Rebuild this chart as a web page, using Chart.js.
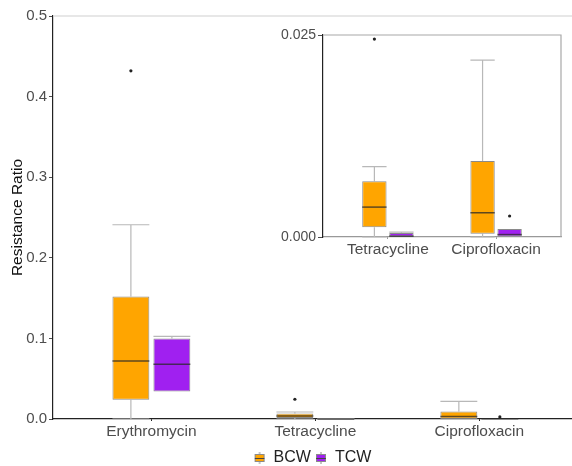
<!DOCTYPE html>
<html>
<head>
<meta charset="utf-8">
<script src="https://cdn.jsdelivr.net/npm/chart.js@4/dist/chart.umd.min.js"></script>
<style>
body { margin: 0; background: #fff; }
.wrap { position: relative; width: 572px; height: 466px; overflow: hidden; }
.main-canvas { position: absolute; left: 0; top: 0; }
.inset-canvas { position: absolute; left: 270px; top: 20px; background: #fff; }
</style>
</head>
<body>
<div class="wrap">
  <canvas class="main-canvas" width="572" height="466"></canvas>
  <canvas class="inset-canvas" width="300" height="245"></canvas>
</div>
<script>
const categories = ["Erythromycin", "Tetracycline", "Ciprofloxacin"];
const insetCategories = ["Tetracycline", "Ciprofloxacin"];
const seriesNames = ["BCW", "TCW"];

// box stats: lower whisker, Q1, median, Q3, upper whisker, outliers
const bcwMin = [0.0, 0.0, 0.0];
const bcwQ1 = [0.024, 0.0012, 0.0004];
const bcwMedian = [0.072, 0.0037, 0.0030];
const bcwQ3 = [0.152, 0.0069, 0.0094];
const bcwMax = [0.241, 0.0087, 0.0219];
const bcwOutliers = [[0.432], [0.0245], []];

const tcwMin = [0.034, 0.0, 0.0];
const tcwQ1 = [0.034, 0.0, 0.0];
const tcwMedian = [0.068, 0.0001, 0.0003];
const tcwQ3 = [0.100, 0.0005, 0.0010];
const tcwMax = [0.1025, 0.0006, 0.0010];
const tcwOutliers = [[], [], [0.0026]];

const mainTicks = [0, 0.1, 0.2, 0.3, 0.4, 0.5];
const insetTicks = [0, 0.025];

const ORANGE = '#FFA500';
const PURPLE = '#A020F0';
const FONT = "'Liberation Sans', Arial, sans-serif";

function makeDataset(label, color, min, q1, med, q3, max, outliers, cats) {
    const idx = cats.map(c => categories.indexOf(c));
    return {
        label: label,
        data: idx.map((k, i) => ({ x: i + 1, y: [q1[k], q3[k]] })),
        stats: {
            min: idx.map(k => min[k]),
            med: idx.map(k => med[k]),
            max: idx.map(k => max[k]),
            q1: idx.map(k => q1[k]),
            q3: idx.map(k => q3[k]),
            out: idx.map(k => outliers[k])
        },
        backgroundColor: color,
        borderColor: '#8a8a8a',
        borderWidth: 1,
        borderSkipped: false,
        grouped: true,
        categoryPercentage: 0.5,
        barPercentage: 0.9,
        pointStyle: legendIcon(color)
    };
}

function legendIcon(color) {
    const c = document.createElement('canvas');
    c.width = 12;
    c.height = 12;
    const g = c.getContext('2d');
    g.strokeStyle = '#8a8a8a';
    g.beginPath();
    g.moveTo(6, 0); g.lineTo(6, 12);
    g.stroke();
    g.fillStyle = color;
    g.fillRect(1, 2, 10, 8);
    g.strokeRect(1.5, 2.5, 9, 7);
    g.strokeStyle = '#444';
    g.beginPath();
    g.moveTo(1, 6.5); g.lineTo(11, 6.5);
    g.stroke();
    return c;
}

// whiskers, medians and outlier dots on top of the floating bars
const boxPlugin = {
    id: 'boxStats',
    beforeDatasetsDraw(chart) {
        const ctx = chart.ctx;
        const y = chart.scales.y;
        ctx.save();
        ctx.strokeStyle = '#b8b8b8';
        ctx.lineWidth = 1.2;
        chart.data.datasets.forEach((ds, d) => {
            chart.getDatasetMeta(d).data.forEach((el, i) => {
                const half = el.width / 2;
                const s = ds.stats;
                const pairs = [[s.q3[i], s.max[i]], [s.q1[i], s.min[i]]];
                pairs.forEach(p => {
                    if (p[0] === p[1]) return;
                    const a = y.getPixelForValue(p[0]);
                    const b = y.getPixelForValue(p[1]);
                    ctx.beginPath();
                    ctx.moveTo(el.x, a); ctx.lineTo(el.x, b);
                    ctx.moveTo(el.x - half, b); ctx.lineTo(el.x + half, b);
                    ctx.stroke();
                });
            });
        });
        ctx.restore();
    },
    afterDatasetsDraw(chart) {
        const ctx = chart.ctx;
        const y = chart.scales.y;
        ctx.save();
        chart.data.datasets.forEach((ds, d) => {
            chart.getDatasetMeta(d).data.forEach((el, i) => {
                const half = el.width / 2;
                const m = y.getPixelForValue(ds.stats.med[i]);
                ctx.strokeStyle = 'rgba(40,40,40,0.75)';
                ctx.lineWidth = 1.5;
                ctx.beginPath();
                ctx.moveTo(el.x - half, m); ctx.lineTo(el.x + half, m);
                ctx.stroke();
                ctx.fillStyle = '#222';
                ds.stats.out[i].forEach(v => {
                    ctx.beginPath();
                    ctx.arc(el.x, y.getPixelForValue(v), 1.6, 0, Math.PI * 2);
                    ctx.fill();
                });
            });
        });
        ctx.restore();
    }
};

// extra panel edges (top / right)
const edgePlugin = {
    id: 'edges',
    afterDraw(chart, args, opts) {
        const a = chart.chartArea;
        const ctx = chart.ctx;
        ctx.save();
        ctx.strokeStyle = opts.color;
        ctx.lineWidth = 1.2;
        ctx.beginPath();
        ctx.moveTo(a.left, a.top); ctx.lineTo(a.right, a.top);
        if (opts.right) {
            ctx.lineTo(a.right, a.bottom);
        }
        ctx.stroke();
        ctx.restore();
    }
};

function xScale(cats, max, height, axisColor) {
    return {
        type: 'linear',
        min: 0.4,
        max: max,
        offset: false,
        afterBuildTicks: s => { s.ticks = cats.map((c, i) => ({ value: i + 1 })); },
        afterFit: s => { s.height = height; },
        ticks: {
            callback: v => cats[v - 1],
            color: '#4d4d4d',
            font: { family: FONT, size: 15.5 },
            padding: 1,
            maxRotation: 0,
            autoSkip: false
        },
        grid: { display: true, offset: false, drawOnChartArea: false, drawTicks: true, tickLength: 2, color: axisColor },
        border: { display: true, color: axisColor, width: 1.2 }
    };
}

const mainCanvas = document.querySelector('.main-canvas');
const mainChart = new Chart(mainCanvas, {
    type: 'bar',
    data: {
        datasets: [
            makeDataset(seriesNames[0], ORANGE, bcwMin, bcwQ1, bcwMedian, bcwQ3, bcwMax, bcwOutliers, categories),
            makeDataset(seriesNames[1], PURPLE, tcwMin, tcwQ1, tcwMedian, tcwQ3, tcwMax, tcwOutliers, categories)
        ]
    },
    options: {
        responsive: false,
        animation: false,
        events: [],
        layout: { padding: { top: 16, left: 0, right: 0, bottom: -10 } },
        scales: {
            x: xScale(categories, 3.565, 27, '#222'),
            y: {
                min: 0,
                max: 0.5,
                afterBuildTicks: s => { s.ticks = mainTicks.map(v => ({ value: v })); },
                afterFit: s => { s.width = 53; },
                ticks: {
                    callback: v => v.toFixed(1),
                    color: '#4d4d4d',
                    font: { family: FONT, size: 15 },
                    padding: 2
                },
                grid: { display: true, drawOnChartArea: false, drawTicks: true, tickLength: 4, color: '#4d4d4d' },
                border: { display: true, color: '#222', width: 1.2 },
                title: {
                    display: true,
                    text: 'Resistance Ratio',
                    color: '#111',
                    font: { family: FONT, size: 15.5 },
                    padding: { top: 8, bottom: 0 }
                }
            }
        },
        plugins: {
            tooltip: { enabled: false },
            edges: { color: '#cfcfcf', right: false },
            legend: {
                position: 'bottom',
                fullSize: false,
                align: 'center',
                labels: {
                    usePointStyle: true,
                    boxWidth: 12,
                    padding: 4,
                    color: '#222',
                    font: { family: FONT, size: 16 }
                }
            }
        }
    },
    plugins: [boxPlugin, edgePlugin]
});

const insetCanvas = document.querySelector('.inset-canvas');
const insetChart = new Chart(insetCanvas, {
    type: 'bar',
    data: {
        datasets: [
            makeDataset(seriesNames[0], ORANGE, bcwMin, bcwQ1, bcwMedian, bcwQ3, bcwMax, bcwOutliers, insetCategories),
            makeDataset(seriesNames[1], PURPLE, tcwMin, tcwQ1, tcwMedian, tcwQ3, tcwMax, tcwOutliers, insetCategories)
        ]
    },
    options: {
        responsive: false,
        animation: false,
        events: [],
        layout: { padding: { top: 15, left: 0, right: 9, bottom: 0 } },
        scales: {
            x: xScale(insetCategories, 2.6, 28, '#999'),
            y: {
                min: 0,
                max: 0.025,
                afterBuildTicks: s => { s.ticks = insetTicks.map(v => ({ value: v })); },
                afterFit: s => { s.width = 53; },
                ticks: {
                    callback: v => v.toFixed(3),
                    color: '#4d4d4d',
                    font: { family: FONT, size: 14 },
                    padding: 2
                },
                grid: { display: true, drawOnChartArea: false, drawTicks: true, tickLength: 5, color: '#4d4d4d' },
                border: { display: true, color: '#222', width: 1.2 }
            }
        },
        plugins: {
            tooltip: { enabled: false },
            legend: { display: false },
            edges: { color: '#a8a8a8', right: true }
        }
    },
    plugins: [boxPlugin, edgePlugin]
});
</script>
</body>
</html>
